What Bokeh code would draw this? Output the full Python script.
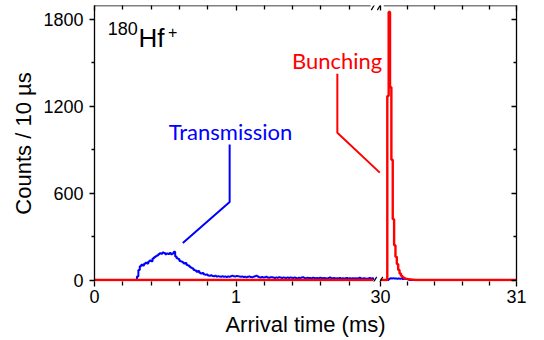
from bokeh.plotting import figure
from bokeh.models import Range1d, LinearAxis, FixedTicker, Label, Arrow, CustomJSTickFormatter
from bokeh.embed import file_html
from bokeh.resources import INLINE

# ---------------- data ----------------
bin_width_ms = 0.01
left_segment_ms = [0.0, 1.97]
right_segment_ms = [30.0, 31.0]

transmission_left_start_ms = 0.30
transmission_left_counts = [
    25, 70, 95, 105, 100, 112, 120, 115, 128, 135,
    130, 148, 158, 165, 170, 178, 185, 182, 190, 186,
    178, 184, 180, 186, 178, 183, 196, 162, 150, 146,
    132, 128, 122, 115, 118, 104, 100, 92, 84, 80,
    70, 66, 58, 62, 50, 45, 48, 40, 36, 38,
    32, 30, 33, 28, 26, 30, 24, 27, 25, 22,
    26, 23, 25, 21, 24, 22, 27, 29, 26, 25,
    28, 27, 24, 22, 25, 21, 23, 20, 22, 24,
    21, 19, 22, 26, 30, 24, 20, 18, 21, 17,
    19, 22, 18, 16, 19, 20, 17, 15, 18, 16,
    19, 17, 15, 18, 16, 14, 17, 15, 18, 16,
    14, 17, 15, 13, 16, 14, 17, 20, 15, 13,
    16, 14, 15, 13, 16, 14, 12, 15, 13, 16,
    14, 12, 15, 13, 11, 14, 18, 13, 12, 14,
    11, 13, 12, 14, 11, 13, 10, 12, 14, 11,
    13, 10, 12, 11, 13, 10, 12, 16, 11, 10,
    12, 11, 9, 11, 15, 10, 12,
]
transmission_right_start_ms = 30.06
transmission_right_counts = [8, 12, 11, 12, 10, 11, 9, 10, 9, 10, 8, 9, 8, 7, 6]

bunching_left_start_ms = 0.0
bunching_left_counts = []
bunching_right_start_ms = 30.05
bunching_right_counts = [1270, 1850, 1330, 830, 420, 240, 160, 110, 70, 45,
                         30, 20, 14, 10, 8, 6, 5, 4, 3, 2]

x_tick_values = [0, 1, 30, 31]
x_minor_tick_values = [0.2, 0.4, 0.6, 0.8, 1.2, 1.4, 1.6, 1.8, 30.2, 30.4, 30.6, 30.8]
y_tick_values = [0, 600, 1200, 1800]
y_minor_tick_values = [300, 900, 1500]

# ---------------- broken axis transform ----------------
BREAK_AT = 10.0
RIGHT_X0 = 2.021
RIGHT_SCALE = 0.961


def bx(t):
    return float(t) if t < BREAK_AT else RIGHT_X0 + (t - 30.0) * RIGHT_SCALE


def steps(segment, start, counts):
    xs = [segment[0]]
    ys = [0]
    for i, c in enumerate(counts):
        xs.append(start + i * bin_width_ms)
        ys.append(c)
    if counts:
        xs.append(start + len(counts) * bin_width_ms)
        ys.append(0)
    xs.append(segment[1])
    ys.append(0)
    return [bx(x) for x in xs], ys


BLUE = "#0000FF"
RED = "#FF0000"
Y0, Y1 = -10, 1894

p = figure(frame_width=422, frame_height=276,
           x_range=Range1d(0, bx(31)), y_range=Range1d(Y0, Y1),
           output_backend="svg", toolbar_location=None,
           min_border_left=94, min_border_right=20, min_border_top=5, min_border_bottom=0)
p.outline_line_color = None
p.grid.visible = False
p.background_fill_color = "white"
p.border_fill_color = "white"

empty = CustomJSTickFormatter(code="return ''")
xticker = FixedTicker(ticks=[bx(t) for t in x_tick_values],
                      minor_ticks=[bx(t) for t in x_minor_tick_values])
yticker = FixedTicker(ticks=y_tick_values, minor_ticks=y_minor_tick_values)

TICK_FONT = "Liberation Sans"

xa = p.xaxis[0]
xa.ticker = xticker
xa.major_label_overrides = {bx(t): str(t) for t in x_tick_values}
xa.axis_line_color = None
xa.major_tick_in = 0
xa.major_tick_out = 5
xa.minor_tick_in = 0
xa.minor_tick_out = 4
xa.major_tick_line_width = 1.3
xa.minor_tick_line_width = 1.3
xa.major_label_standoff = 3
xa.axis_label = "Arrival time (ms)"
xa.axis_label_standoff = 6

ya = p.yaxis[0]
ya.ticker = yticker
ya.axis_line_width = 1.3
ya.major_tick_in = 0
ya.major_tick_out = 5
ya.minor_tick_in = 0
ya.minor_tick_out = 3
ya.major_tick_line_width = 1.3
ya.minor_tick_line_width = 1.3
ya.major_label_standoff = 6
ya.axis_label = "Counts / 10 \u00b5s"
ya.axis_label_standoff = 4

for ax in (xa, ya):
    ax.major_label_text_font = TICK_FONT
    ax.major_label_text_font_size = "18px"
    ax.major_label_text_color = "black"
    ax.axis_label_text_font = TICK_FONT
    ax.axis_label_text_font_size = "22px"
    ax.axis_label_text_font_style = "normal"
    ax.axis_label_text_color = "black"
    ax.major_tick_line_color = "black"
    ax.minor_tick_line_color = "black"

ra = LinearAxis(ticker=yticker, formatter=empty, axis_line_width=1.3,
                major_tick_in=5, major_tick_out=0, minor_tick_in=3, minor_tick_out=0,
                major_tick_line_width=1.3, minor_tick_line_width=1.3,
                major_label_standoff=0)
p.add_layout(ra, "right")

ta = LinearAxis(ticker=xticker, formatter=empty, axis_line_color=None,
                major_tick_in=5, major_tick_out=0, minor_tick_in=4, minor_tick_out=0,
                major_tick_line_width=1.3, minor_tick_line_width=1.3,
                major_label_standoff=0)
p.add_layout(ta, "above")

# ---------------- data lines ----------------
for start, counts, seg in ((transmission_left_start_ms, transmission_left_counts, left_segment_ms),
                           (transmission_right_start_ms, transmission_right_counts, right_segment_ms)):
    xs, ys = steps(seg, start, counts)
    p.step(xs, ys, mode="after", line_color=BLUE, line_width=2)

for start, counts, seg in ((bunching_left_start_ms, bunching_left_counts, left_segment_ms),
                           (bunching_right_start_ms, bunching_right_counts, right_segment_ms)):
    xs, ys = steps(seg, start, counts)
    p.step(xs, ys, mode="after", line_color=RED, line_width=2.4)

# ---------------- callouts ----------------
p.line([0.624, 0.955, 0.955], [255, 539, 935], line_color=BLUE, line_width=2)
p.line([2.016, 1.716, 1.716], [741, 1016, 1424], line_color=RED, line_width=2)

p.add_layout(Label(x=0.961, y=1026, text="Transmission", text_align="center",
                   text_baseline="alphabetic", text_font="Lato",
                   text_font_size="22px", text_color=BLUE))
p.add_layout(Label(x=1.714, y=1513, text="Bunching", text_align="center",
                   text_baseline="alphabetic", text_font="Lato",
                   text_font_size="22px", text_color=RED))

p.add_layout(Label(x=0.093, y=1733, text="180", text_align="left", text_baseline="alphabetic",
                   text_font=TICK_FONT, text_font_size="18px", text_color="black"))
p.add_layout(Label(x=0.311, y=1671, text="Hf", text_align="left", text_baseline="alphabetic",
                   text_font=TICK_FONT, text_font_size="26px", text_color="black"))
p.add_layout(Label(x=0.519, y=1712, text="+", text_align="left", text_baseline="alphabetic",
                   text_font=TICK_FONT, text_font_size="16px", text_color="black"))

# ---------------- top frame line with break + break marks ----------------
px_x = 1 / 141.5
px_y = (Y1 - Y0) / 276.0
for xa0, xa1 in ((0.0, 1.951), (2.044, bx(31))):
    p.add_layout(Arrow(x_start=xa0, y_start=Y1, x_end=xa1, y_end=Y1, end=None,
                       line_color="black", line_width=1.3))
for yc in (Y1, Y0):
    for xc in (1.975, 2.018):
        p.add_layout(Arrow(x_start=xc - 2.7 * px_x, y_start=yc - 4.6 * px_y,
                           x_end=xc + 2.7 * px_x, y_end=yc + 4.6 * px_y, end=None,
                           line_color="black", line_width=1.2))

open("out.html", "w").write(file_html(p, INLINE))
